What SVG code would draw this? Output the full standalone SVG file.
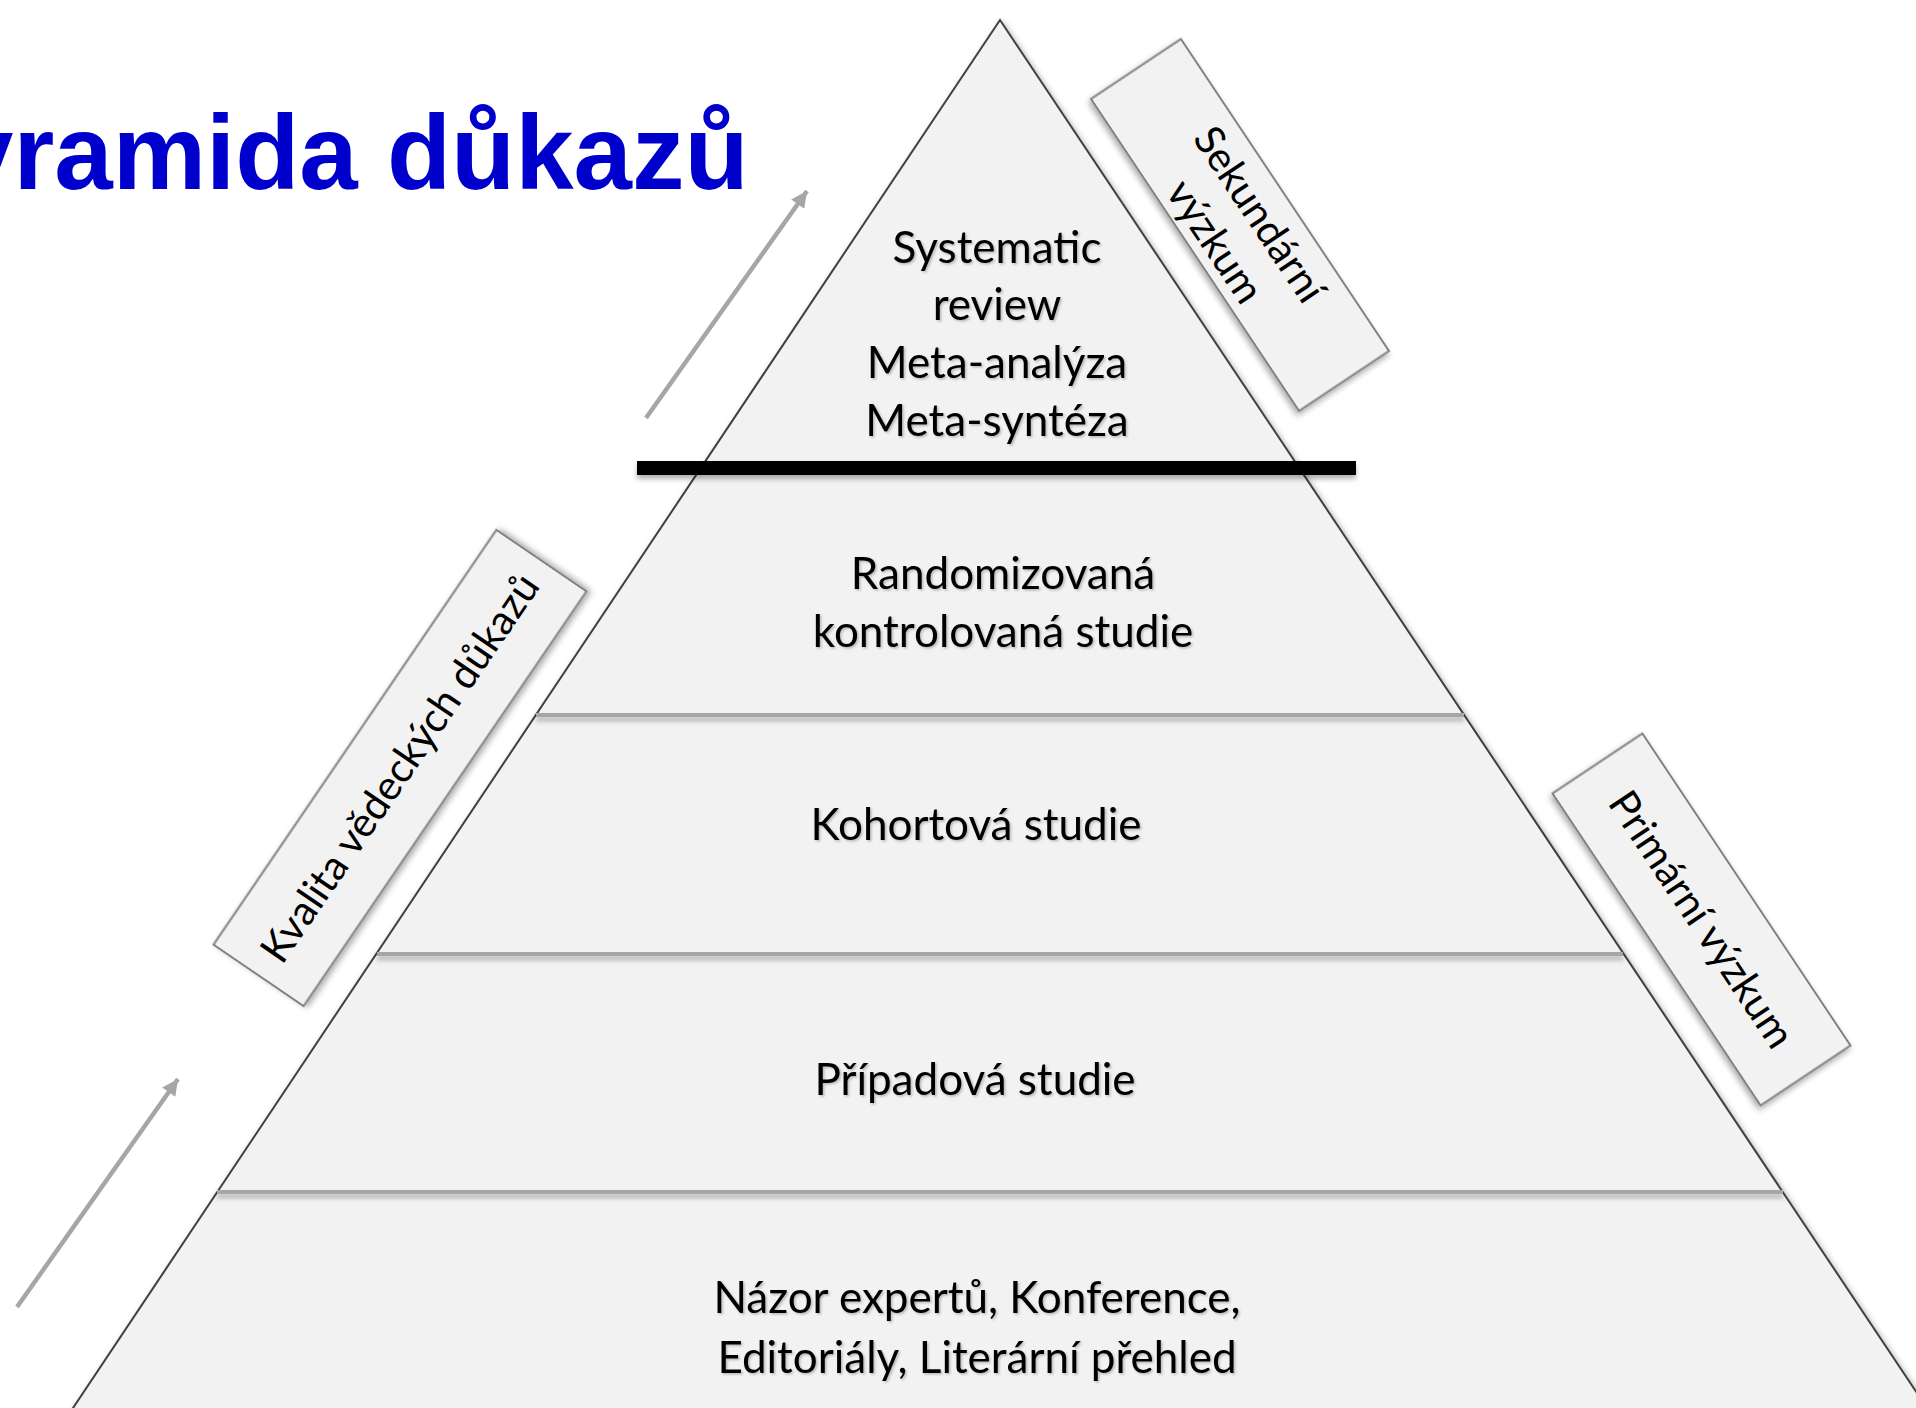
<svg xmlns="http://www.w3.org/2000/svg" width="1916" height="1408" viewBox="0 0 1916 1408">
<defs>
<filter id="shadow" x="-10%" y="-10%" width="120%" height="120%">
<feDropShadow dx="2" dy="3" stdDeviation="3" flood-color="#000" flood-opacity="0.35"/>
</filter>
<filter id="lineShadow" x="-5%" y="-200%" width="110%" height="500%">
<feDropShadow dx="0" dy="4" stdDeviation="2.5" flood-color="#000" flood-opacity="0.3"/>
</filter>
<filter id="textShadow" x="-5%" y="-20%" width="110%" height="140%">
<feDropShadow dx="1.5" dy="1.5" stdDeviation="1" flood-color="#000" flood-opacity="0.25"/>
</filter>
<marker id="ah" viewBox="0 0 10 10" refX="10" refY="5" markerWidth="22" markerHeight="16" markerUnits="userSpaceOnUse" orient="auto">
<path d="M0,0 L10,5 L0,10 z" fill="#a6a6a6"/>
</marker>
</defs>
<style>
.layer{fill:#f2f2f2;stroke:none}
.lt{font-family:Lato,"Open Sans","Noto Sans",sans-serif;font-size:44px;fill:#000;text-anchor:middle}
.lbl{font-family:Lato,"Open Sans","Noto Sans",sans-serif;font-size:41px;fill:#000;text-anchor:middle}
.box{fill:#f2f2f2;stroke:#808080;stroke-width:2}
.sep{stroke:#a6a6a6;stroke-width:4}
.arrow{stroke:#a6a6a6;stroke-width:4.5;fill:none;marker-end:url(#ah)}
.title{font-family:"Liberation Sans",Arial,sans-serif;font-weight:bold;font-size:105px;fill:#0000cc}
</style>
<rect width="1916" height="1408" fill="#ffffff"/>

<g id="title">
<text class="title" x="-115" y="189">Pyramida důkazů</text>
</g>

<g id="connectors">
<line class="arrow" x1="646" y1="418" x2="807" y2="191"/>
<line class="arrow" x1="17" y1="1307" x2="178" y2="1079"/>
</g>

<g id="pyramid">
<g filter="url(#shadow)">
<polygon points="1000,20 1935,1420 65,1420" fill="#f2f2f2" stroke="#404040" stroke-width="2"/>
</g>
<g id="layer-top">
<polygon class="layer" points="1000,24 1297,468 703,468"/>
<g class="lt" filter="url(#textShadow)">
<text x="997" y="263">Systematic</text>
<text x="997" y="320">review</text>
<text x="997" y="378">Meta-analýza</text>
<text x="997" y="436">Meta-syntéza</text>
</g>
</g>
<g id="layer-rct">
<text class="lt" filter="url(#textShadow)" x="1003" y="589">Randomizovaná</text>
<text class="lt" filter="url(#textShadow)" x="1003" y="647">kontrolovaná studie</text>
</g>
<g id="layer-cohort">
<text class="lt" filter="url(#textShadow)" x="976" y="840">Kohortová studie</text>
</g>
<g id="layer-case">
<text class="lt" filter="url(#textShadow)" x="975" y="1095">Případová studie</text>
</g>
<g id="layer-opinion">
<text class="lt" filter="url(#textShadow)" x="977" y="1313">Názor expertů, Konference,</text>
<text class="lt" filter="url(#textShadow)" x="977" y="1373">Editoriály, Literární přehled</text>
</g>
<g id="separators" filter="url(#lineShadow)">
<line class="sep" x1="536" y1="715" x2="1464" y2="715"/>
<line class="sep" x1="377" y1="954" x2="1623" y2="954"/>
<line class="sep" x1="217" y1="1192" x2="1783" y2="1192"/>
</g>
<g id="divider" filter="url(#lineShadow)">
<rect x="637" y="461" width="719" height="14" fill="#000"/>
</g>
</g>

<g id="label-secondary" transform="translate(1240,225) rotate(56.3)">
<rect class="box" filter="url(#shadow)" x="-187.5" y="-54" width="375" height="108"/>
<text class="lbl" x="2" y="-8">Sekundární</text>
<text class="lbl" x="0" y="44">výzkum</text>
</g>

<g id="label-quality" transform="translate(400,768) rotate(-55.7)">
<rect class="box" filter="url(#shadow)" x="-251" y="-54.5" width="502" height="109"/>
<text class="lbl" x="0" y="14">Kvalita vědeckých důkazů</text>
</g>

<g id="label-primary" transform="translate(1701.5,919.5) rotate(56.3)">
<rect class="box" filter="url(#shadow)" x="-187.5" y="-54" width="375" height="108"/>
<text class="lbl" x="0" y="14">Primární výzkum</text>
</g>
</svg>
